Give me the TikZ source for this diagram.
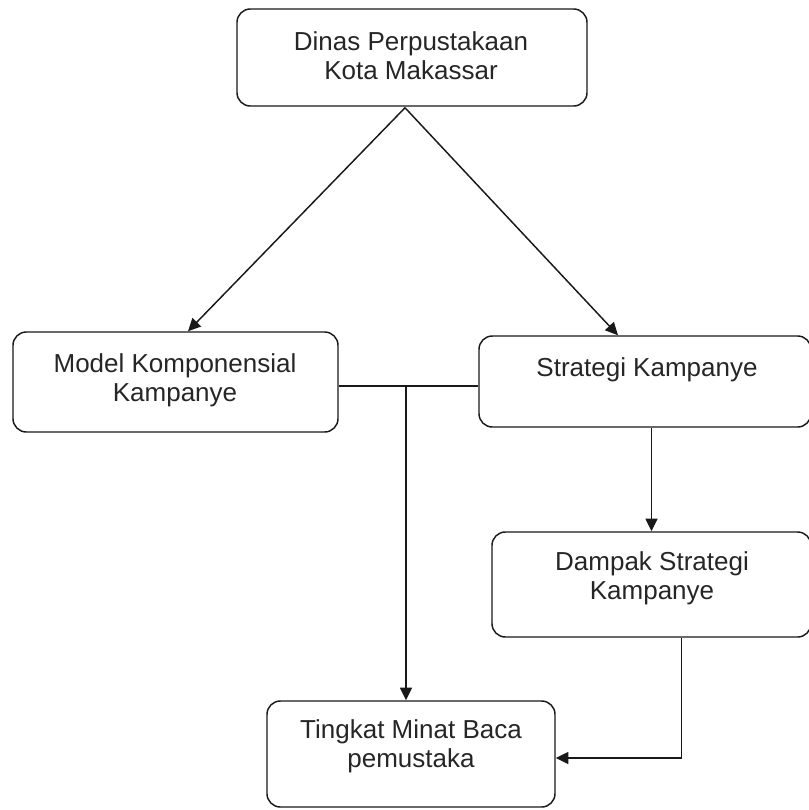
\documentclass[tikz,border=0pt]{standalone}
\usepackage{fontspec}
\setmainfont{Liberation Sans}
\usetikzlibrary{arrows.meta,calc}
\begin{document}
\begin{tikzpicture}[x=0.75pt,y=-0.75pt,
  box/.style={draw=black!90, line width=1.1pt, rounded corners=10pt, rectangle, inner sep=0pt},
  lbl/.style={align=center, text=black!85, font=\fontsize{19.5}{22}\selectfont, inner sep=0pt},
  conn/.style={draw=black!90, line width=1.1pt},
  arr/.style={conn, -{Triangle[length=9.5pt,width=9pt]}}]
\useasboundingbox (0,0) rectangle (808,810);
\fill[white] (0,0) rectangle (808,810);
% boxes
\node[box, minimum width=350*0.75pt, minimum height=97*0.75pt] (top) at (412,57.5) {};
\node[box, minimum width=325*0.75pt, minimum height=100*0.75pt] (left) at (175.5,382) {};
\node[box, minimum width=332*0.75pt, minimum height=91*0.75pt] (right) at (645,381.5) {};
\node[box, minimum width=319*0.75pt, minimum height=105*0.75pt] (dampak) at (651.5,584.5) {};
\node[box, minimum width=288*0.75pt, minimum height=106*0.75pt] (bottom) at (411,754) {};
% texts
\node[lbl] (topt) at (411,56) {Dinas Perpustakaan\\Kota Makassar};
\node[lbl] (leftt) at (175,380) {Model Komponensial\\Kampanye};
\node[lbl] (rightt) at (647,370) {Strategi Kampanye};
\node[lbl] (dampakt) at (652,578.5) {Dampak Strategi\\Kampanye};
\node[lbl] (bottomt) at (411,746.5) {Tingkat Minat Baca\\pemustaka};
% connectors
\coordinate (apex) at ($(top.south)+(-7,1)$);
\draw[arr] (apex) -- ($(left.north)+(12.5,0)$);
\draw[arr] (apex) -- ($(right.north)+(-27,0)$);
\coordinate (lr) at ($(left.east)+(0,4)$);
\coordinate (junc) at (406,386);
\draw[conn] (lr) -- (lr -| right.west);
\draw[arr] (junc) -- (junc |- bottom.north);
\draw[arr] (dampak.north |- right.south) -- (dampak.north);
\coordinate (dout) at ($(dampak.south)+(30,0)$);
\coordinate (bin) at ($(bottom.east)+(0,4)$);
\draw[arr] (dout) -- (dout |- bin) -- (bin);
\end{tikzpicture}
\end{document}
